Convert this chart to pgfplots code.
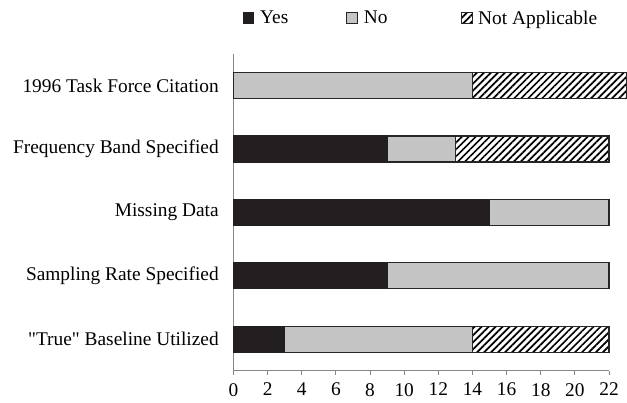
\documentclass[border=0pt]{standalone}
\usepackage{pgfplots}
\pgfplotsset{compat=1.18}
\usepackage{fontspec}
\setmainfont{Liberation Serif}
\newfontfamily\plainserif{Liberation Serif}
\usetikzlibrary{patterns.meta}

\definecolor{yescol}{HTML}{231F20}
\definecolor{nocol}{HTML}{C4C4C4}
\definecolor{axgray}{HTML}{878787}

\begin{document}
\fontsize{14.5}{17}\selectfont
\begin{tikzpicture}
\begin{axis}[
  scale only axis, width=281pt, height=237pt,
  xbar stacked, bar width=0.41,
  clip=false,
  xmin=0, xmax=22, ymin=-0.5, ymax=4.5,
  axis x line=bottom, axis y line=left,
  axis line style={axgray, line width=0.8pt, -},
  tick style={axgray, line width=0.8pt},
  tick align=outside,
  xtick={0,2,...,22},
  major tick length=3pt,
  ytick={0,...,4},
  yticklabels={{\plainserif"True" Baseline Utilized}, Sampling Rate Specified, Missing Data, Frequency Band Specified, 1996 Task Force Citation},
  y tick style={draw=none},
  minor ytick={-0.5,0.5,...,4.5},
  minor y tick style={axgray, line width=0.8pt},
  minor tick length=4pt,
  yticklabel style={xshift=-3pt},
  xticklabel style={yshift=-1.2pt},
  /pgf/number format/assume math mode=true,
  tick label style={font=\fontsize{14.5}{17}\selectfont},
  legend columns=3,
  legend style={draw=none, at={(0.5,1)}, anchor=south, yshift=18pt,
    font=\fontsize{14.5}{17}\selectfont,
    /tikz/every even column/.style={column sep=0pt},
    inner sep=0pt},
  legend image code/.code={\draw[#1, line width=0.6pt] (0pt,-3.5pt) rectangle (8pt,4.5pt);},
]
% Yes
\addplot[fill=yescol, draw=yescol, line width=0.9pt] coordinates {(3,0) (9,1) (15,2) (9,3) (0,4)};
% No
\addplot[fill=nocol, draw=black!85, line width=0.9pt] coordinates {(11,0) (13,1) (7,2) (4,3) (14,4)};
% Not Applicable
\addplot[fill=white, postaction={pattern={Lines[angle=45,distance=3.7pt,line width=1.3pt]}}, draw=black!85, line width=0.9pt] coordinates {(8,0) (0,1) (0,2) (9,3) (9,4)};
\addlegendentry{\makebox[65pt][l]{\,Yes}}
\addlegendentry{\makebox[73pt][l]{\,No}}
\addlegendentry{\,Not Applicable}
\end{axis}
\path ([xshift=-5pt]current bounding box.south west) ([yshift=6pt]current bounding box.north east);
\end{tikzpicture}
\end{document}
